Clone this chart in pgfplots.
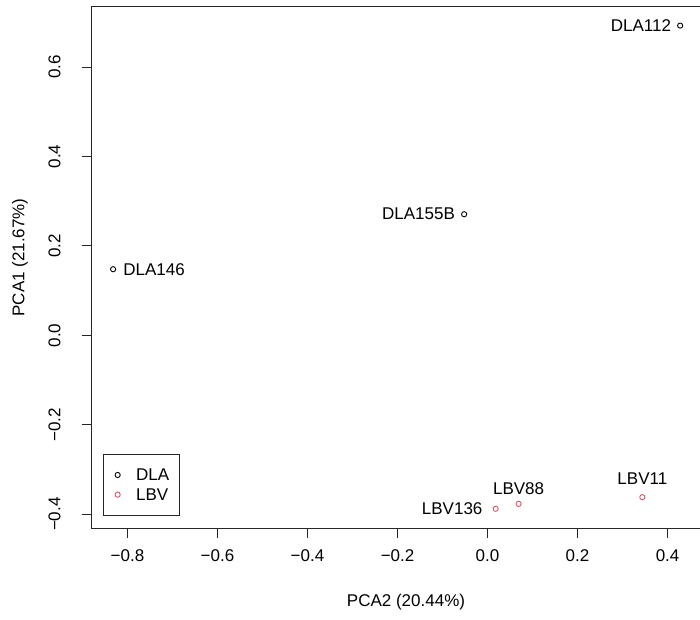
\documentclass[border=0pt]{standalone}
\usepackage{fontspec}
\setmainfont{Liberation Sans}
\usepackage{pgfplots}
\pgfplotsset{compat=1.18}
\definecolor{lbvred}{HTML}{DF536B}

\pgfplotsset{
  ptlabel/.style={forget plot, only marks, mark=none, draw=none,
    point meta=explicit symbolic, nodes near coords,
    every node near coord/.append style={inner sep=0pt, text=black, #1}},
}

\begin{document}
\fontsize{17}{20}\selectfont
\begin{tikzpicture}
\begin{axis}[
  at={(91.5pt,91pt)}, anchor=south west,
  scale only axis, width=615.2pt, height=521.6pt,
  xmin=-0.880, xmax=0.487, ymin=-0.431, ymax=0.736,
  axis line style={line width=1pt, black!85},
  tick pos=left, tick align=outside, major tick length=10pt,
  tick style={line width=1pt, black!85},
  xtick={-0.8,-0.6,-0.4,-0.2,0,0.2,0.4},
  xticklabels={−0.8,−0.6,−0.4,−0.2,0.0,0.2,0.4},
  ytick={-0.4,-0.2,0,0.2,0.4,0.6},
  yticklabels={−0.4,−0.2,0.0,0.2,0.4,0.6},
  xticklabel shift=6pt,
  yticklabel shift=15pt,
  yticklabel style={rotate=90, anchor=south},
  xlabel={PCA2 (20.44\%)},
  ylabel={PCA1 (21.67\%)},
  xlabel style={at={(rel axis cs:0.5112,-0.1419)}, anchor=center},
  ylabel style={at={(rel axis cs:-0.1162,0.5186)}, anchor=center},
  legend style={at={(rel axis cs:0.0182,0.023)}, anchor=south west,
    draw=black!85, line width=1pt, inner xsep=10pt, inner ysep=15pt,
    row sep=8pt, column sep=14pt, nodes={inner sep=0pt, text depth=0pt}},
  legend cell align=left,
  legend image code/.code={\path (-4pt,0pt) (4pt,0pt);
    \draw[#1] plot[only marks] coordinates {(0pt,0pt)};},
]
\addplot[only marks, mark=o, mark size=2.6pt, line width=0.9pt, black]
  coordinates {(0.428,0.693) (-0.052,0.271) (-0.832,0.148)};
\addlegendentry{DLA}
\addplot[only marks, mark=o, mark size=2.6pt, line width=0.9pt, lbvred]
  coordinates {(0.344,-0.362) (0.069,-0.377) (0.018,-0.388)};
\addlegendentry{LBV}
% point labels
\addplot[ptlabel={anchor=east, xshift=-9pt}]
  coordinates {(0.428,0.693) [DLA112] (-0.052,0.271) [DLA155B]};
\addplot[ptlabel={anchor=west, xshift=10pt}]
  coordinates {(-0.832,0.148) [DLA146]};
\addplot[ptlabel={anchor=south, yshift=12pt}]
  coordinates {(0.344,-0.362) [LBV11]};
\addplot[ptlabel={anchor=south, yshift=9pt}]
  coordinates {(0.069,-0.377) [LBV88]};
\addplot[ptlabel={anchor=east, xshift=-13pt}]
  coordinates {(0.018,-0.388) [LBV136]};
\end{axis}
\pgfresetboundingbox
\useasboundingbox (0,0) rectangle (700pt,619pt);
\end{tikzpicture}
\end{document}
